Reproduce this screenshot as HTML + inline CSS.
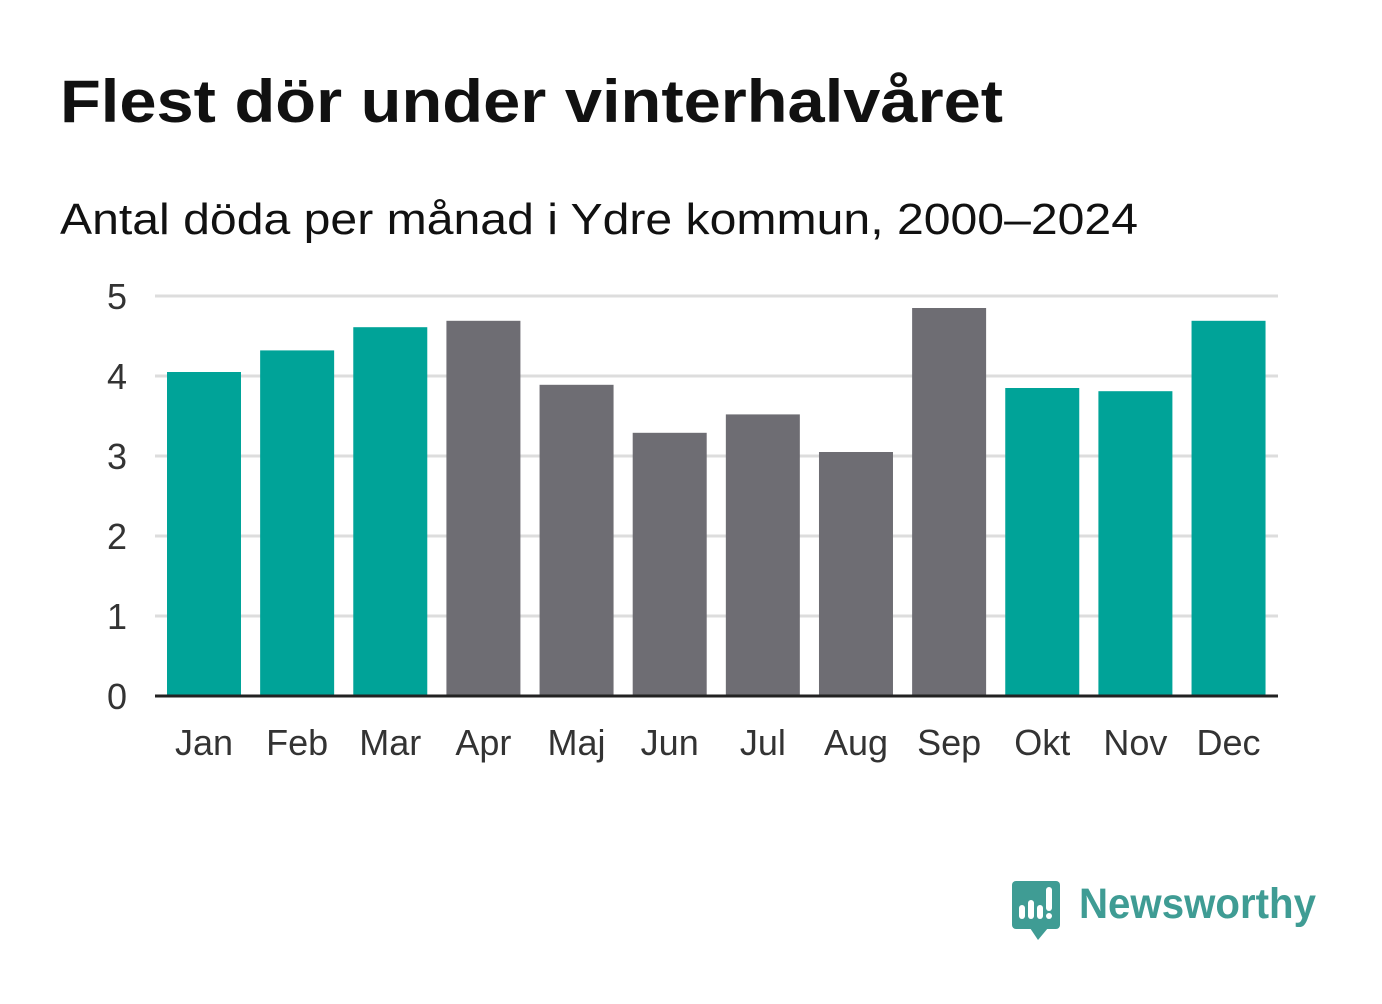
<!DOCTYPE html>
<html><head><meta charset="utf-8"><style>
body{margin:0;background:#fff;width:1382px;height:999px;overflow:hidden;font-family:"Liberation Sans",sans-serif;}
</style></head><body>
<svg width="1382" height="999" xmlns="http://www.w3.org/2000/svg">
<text x="60" y="122" font-size="60" font-weight="bold" fill="#111" textLength="943" lengthAdjust="spacingAndGlyphs">Flest dör under vinterhalvåret</text>
<text x="60" y="234" font-size="44" fill="#111" textLength="1078" lengthAdjust="spacingAndGlyphs">Antal döda per månad i Ydre kommun, 2000–2024</text>
<g id="grid"></g><g id="bars"></g><g id="xl"></g>
<g>
<rect x="1012" y="881" width="48" height="48" rx="4" fill="#3f9c94"/>
<polygon points="1030,928 1048,928 1038,940" fill="#3f9c94"/>
<rect x="1019" y="905" width="6" height="14" rx="3" fill="#fff"/>
<rect x="1028" y="900" width="6" height="19" rx="3" fill="#fff"/>
<rect x="1037" y="905" width="6" height="14" rx="3" fill="#fff"/>
<rect x="1046" y="887" width="6" height="24" rx="3" fill="#fff"/>
<circle cx="1049" cy="916" r="3" fill="#fff"/>
<text x="1079" y="918" font-size="43" font-weight="bold" fill="#3f9c94" textLength="237" lengthAdjust="spacingAndGlyphs">Newsworthy</text>
</g>
</svg>
<script>
const months=["Jan","Feb","Mar","Apr","Maj","Jun","Jul","Aug","Sep","Okt","Nov","Dec"];
const values=[4.05,4.32,4.61,4.69,3.89,3.29,3.52,3.05,4.85,3.85,3.81,4.69];
const winter=[true,true,true,false,false,false,false,false,false,true,true,true];
const ticks=[0,1,2,3,4,5];
const NS="http://www.w3.org/2000/svg";
const x0=155,x1=1278,yb=696,pu=80,c0=204,band=93.14;
const y=v=>yb-v*pu;
function mk(t,a,p){const e=document.createElementNS(NS,t);for(const k in a)e.setAttribute(k,a[k]);p.appendChild(e);return e;}
const g=document.getElementById('grid'),b=document.getElementById('bars'),xl=document.getElementById('xl');
ticks.forEach(t=>{
 if(t>0){const l=mk('line',{x1:x0,x2:x1,y1:y(t),y2:y(t),stroke:'#ddd','stroke-width':3},g);
 
 }
 const tx=mk('text',{x:127,y:y(t)+13,'font-size':36,fill:'#333','text-anchor':'end'},g);tx.textContent=t;
 
 
});
months.forEach((m,i)=>{
 const cx=c0+band*i;
 const r=mk('rect',{x:cx-37,y:y(values[i]),width:74,height:values[i]*pu,fill:winter[i]?'#00a398':'#6e6d73'},b);
 
 
 const t=mk('text',{x:cx,y:755,'font-size':36,fill:'#333','text-anchor':'middle'},xl);t.textContent=m;
 
 
});
const ax=mk('line',{x1:x0,x2:x1,y1:yb,y2:yb,stroke:'#222','stroke-width':3},xl);


</script>
</body></html>
